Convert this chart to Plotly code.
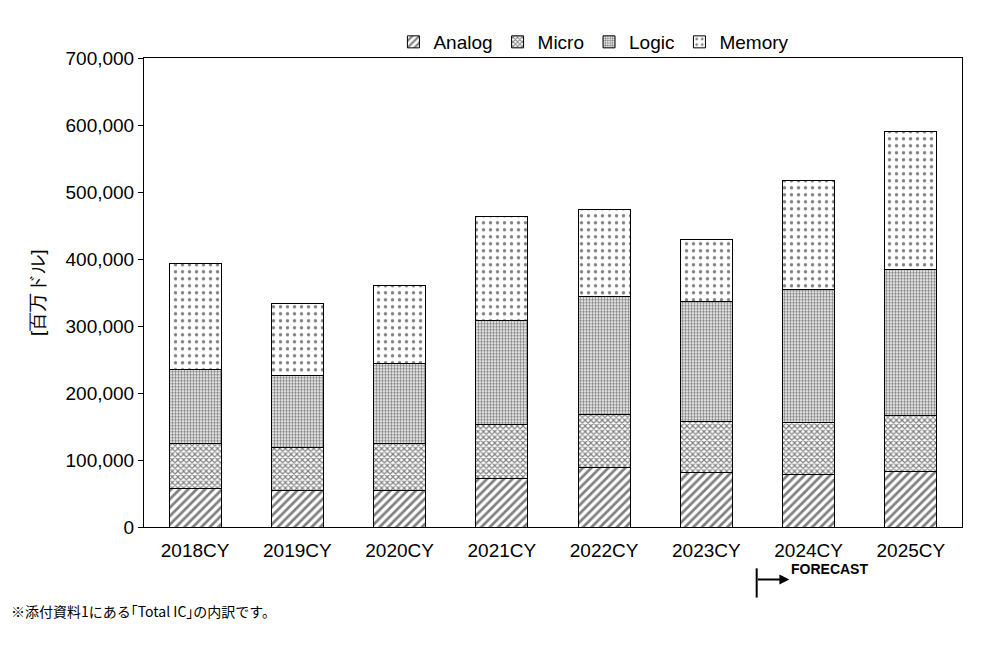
import plotly.graph_objects as go

years = ["2018CY", "2019CY", "2020CY", "2021CY", "2022CY", "2023CY", "2024CY", "2025CY"]
analog = [58000, 54000, 55000, 73000, 89000, 82000, 79000, 83000]
micro = [67000, 65000, 70000, 80000, 79000, 76000, 77000, 84000]
logic = [110000, 107000, 119000, 155000, 176000, 179000, 198000, 217000]
memory = [158000, 108000, 116000, 155000, 130000, 92000, 163000, 206000]

series = [
    ("Analog", analog, dict(shape="/", size=6, solidity=0.45)),
    ("Micro", micro, dict(shape="x", size=4, solidity=0.5)),
    ("Logic", logic, dict(shape=".", size=3, solidity=0.5)),
    ("Memory", memory, dict(shape=".", size=7, solidity=0.18)),
]

fig = go.Figure()
for name, vals, pat in series:
    fig.add_trace(go.Bar(
        x=years, y=vals, name=name,
        marker=dict(color="white", line=dict(color="black", width=1),
                    pattern=dict(fgcolor="black", bgcolor="white", **pat)),
    ))

fig.update_layout(
    barmode="stack", bargap=0.49,
    width=994, height=647,
    plot_bgcolor="white", paper_bgcolor="white",
    font=dict(family="Liberation Sans, Arial", size=19, color="black"),
    margin=dict(l=136, r=40, t=5, b=128),
    legend=dict(orientation="h", traceorder="normal", x=0.55, xanchor="center",
                y=1.0, yanchor="top", bgcolor="rgba(0,0,0,0)",
                font=dict(size=19), itemwidth=30),
)
fig.update_xaxes(showline=True, mirror=True, linecolor="black", ticks="outside",
                 ticklen=6, tickcolor="rgba(0,0,0,0)")
fig.update_yaxes(range=[0, 700000], dtick=100000, tickformat=",", showgrid=False,
                 domain=[0, 0.93],
                 showline=True, mirror=True, linecolor="black", ticks="outside",
                 ticklen=5, tickcolor="black",
                 title=dict(text="[百万ドル]", font=dict(size=19)))

fig.add_shape(type="line", xref="paper", yref="paper", x0=0.749, x1=0.749,
              y0=-0.082, y1=-0.14, line=dict(color="black", width=2))
fig.add_annotation(xref="paper", yref="paper", x=0.789, y=-0.104, ax=-33, ay=0,
                   text="", showarrow=True,
                   arrowhead=2, arrowsize=1, arrowwidth=2, arrowcolor="black")
fig.add_annotation(xref="paper", yref="paper", x=0.789, y=-0.104, xanchor="left",
                   text="<b>FORECAST</b>", showarrow=False, font=dict(size=14))
fig.add_annotation(xref="paper", yref="paper", x=-0.165, y=-0.19,
                   xanchor="left", text="※添付資料1にある｢Total IC｣の内訳です。",
                   showarrow=False, font=dict(size=14, family="Noto Sans CJK JP"))

fig.write_html("out.html")
